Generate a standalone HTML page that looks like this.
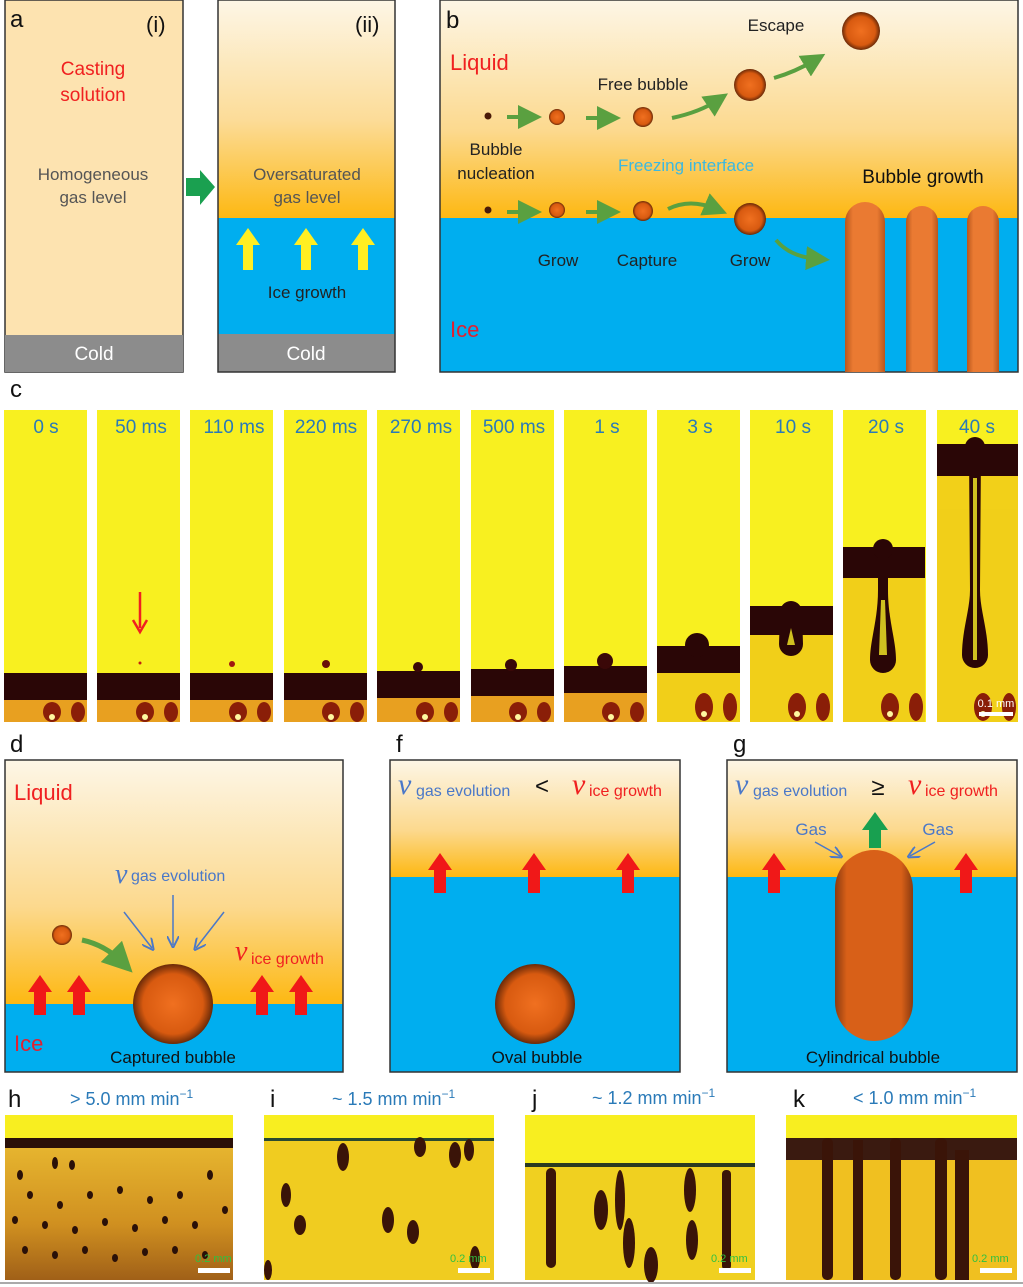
<!DOCTYPE html>
<html><head><meta charset="utf-8"><style>
body{margin:0;background:#fff;width:1023px;height:1287px;overflow:hidden}
svg{display:block}
text{font-family:"Liberation Sans",Arial,sans-serif}
</style></head><body>
<svg width="1023" height="1287" viewBox="0 0 1023 1287" xmlns="http://www.w3.org/2000/svg">
<defs>
<linearGradient id="liq" x1="0" y1="0" x2="0" y2="1">
<stop offset="0" stop-color="#fdf6e6"/><stop offset="0.55" stop-color="#fcdc98"/><stop offset="1" stop-color="#fdb812"/></linearGradient>
<linearGradient id="liq2" x1="0" y1="0" x2="0" y2="1">
<stop offset="0" stop-color="#fdf6e6"/><stop offset="0.6" stop-color="#fcd98e"/><stop offset="1" stop-color="#fdb812"/></linearGradient>
<radialGradient id="bub" cx="0.5" cy="0.5" r="0.5">
<stop offset="0" stop-color="#f07020"/><stop offset="0.75" stop-color="#d85a10"/><stop offset="1" stop-color="#6a2a08"/></radialGradient>
<linearGradient id="col" x1="0" y1="0" x2="1" y2="0">
<stop offset="0" stop-color="#b8561c"/><stop offset="0.2" stop-color="#ea7a32"/><stop offset="0.8" stop-color="#ea7a32"/><stop offset="1" stop-color="#b8561c"/></linearGradient>
<linearGradient id="colB" x1="0" y1="0" x2="1" y2="0">
<stop offset="0" stop-color="#8a3a10"/><stop offset="0.15" stop-color="#d86018"/><stop offset="0.85" stop-color="#d86018"/><stop offset="1" stop-color="#8a3a10"/></linearGradient>
<marker id="ga" markerWidth="6" markerHeight="6" refX="3" refY="3" orient="auto"><path d="M0,0 L6,3 L0,6 z" fill="#5aa040"/></marker>
<marker id="ba" markerWidth="8" markerHeight="8" refX="6" refY="4" orient="auto"><path d="M0,0 L8,4 L0,8" fill="none" stroke="#4a78c8" stroke-width="1.3"/></marker>
<linearGradient id="hg" x1="0" y1="0" x2="0" y2="1"><stop offset="0" stop-color="#e8b830"/><stop offset="0.6" stop-color="#d09020"/><stop offset="1" stop-color="#a06018"/></linearGradient>
</defs>

<!-- panel a(i) -->
<rect x="5" y="0" width="178" height="372" fill="#fde3b0" stroke="#333" stroke-width="1.5"/>
<rect x="5" y="335" width="178" height="37" fill="#8c8c8c"/>
<text x="10" y="27" font-size="24" fill="#111">a</text>
<text x="146" y="32" font-size="22" fill="#111">(i)</text>
<text x="93" y="75" font-size="19" fill="#f02020" text-anchor="middle">Casting</text>
<text x="93" y="101" font-size="19" fill="#f02020" text-anchor="middle">solution</text>
<text x="93" y="180" font-size="17" fill="#555" text-anchor="middle">Homogeneous</text>
<text x="93" y="203" font-size="17" fill="#555" text-anchor="middle">gas level</text>
<text x="94" y="360" font-size="19" fill="#fff" text-anchor="middle">Cold</text>
<path d="M186,178 L200,178 L200,170 L215,187 L200,205 L200,196 L186,196 z" fill="#1aa050"/>

<!-- panel a(ii) -->
<rect x="218" y="0" width="177" height="218" fill="url(#liq)"/>
<rect x="218" y="218" width="177" height="116" fill="#00aeef"/>
<rect x="218" y="334" width="177" height="38" fill="#8c8c8c"/>
<rect x="218" y="0" width="177" height="372" fill="none" stroke="#333" stroke-width="1.5"/>
<text x="355" y="32" font-size="22" fill="#111">(ii)</text>
<text x="307" y="180" font-size="17" fill="#555" text-anchor="middle">Oversaturated</text>
<text x="307" y="203" font-size="17" fill="#555" text-anchor="middle">gas level</text>
<g fill="#ffee22">
<path d="M243,270 L243,245 L236,245 L248,228 L260,245 L253,245 L253,270 z"/>
<path d="M301,270 L301,245 L294,245 L306,228 L318,245 L311,245 L311,270 z"/>
<path d="M358,270 L358,245 L351,245 L363,228 L375,245 L368,245 L368,270 z"/>
</g>
<text x="307" y="298" font-size="17" fill="#222" text-anchor="middle">Ice growth</text>
<text x="306" y="360" font-size="19" fill="#fff" text-anchor="middle">Cold</text>

<!-- panel b -->
<rect x="440" y="0" width="578" height="218" fill="url(#liq2)"/>
<rect x="440" y="218" width="578" height="154" fill="#00aeef"/>
<rect x="440" y="0" width="578" height="372" fill="none" stroke="#333" stroke-width="1.5"/>
<text x="446" y="28" font-size="24" fill="#111">b</text>
<text x="450" y="70" font-size="22" fill="#f02020">Liquid</text>
<text x="450" y="337" font-size="22" fill="#e02030">Ice</text>
<text x="776" y="31" font-size="17" fill="#222" text-anchor="middle">Escape</text>
<text x="643" y="90" font-size="17" fill="#222" text-anchor="middle">Free bubble</text>
<text x="496" y="155" font-size="17" fill="#222" text-anchor="middle">Bubble</text>
<text x="496" y="179" font-size="17" fill="#222" text-anchor="middle">nucleation</text>
<text x="686" y="171" font-size="17" fill="#3cb8e0" text-anchor="middle">Freezing interface</text>
<text x="923" y="183" font-size="19" fill="#111" text-anchor="middle">Bubble growth</text>
<text x="558" y="266" font-size="17" fill="#222" text-anchor="middle">Grow</text>
<text x="647" y="266" font-size="17" fill="#222" text-anchor="middle">Capture</text>
<text x="750" y="266" font-size="17" fill="#222" text-anchor="middle">Grow</text>
<circle cx="488" cy="116" r="3.5" fill="#4a1a08"/>
<circle cx="557" cy="117" r="8" fill="url(#bub)"/>
<circle cx="643" cy="117" r="10" fill="url(#bub)"/>
<circle cx="750" cy="85" r="16" fill="url(#bub)"/>
<circle cx="861" cy="31" r="19" fill="url(#bub)"/>
<circle cx="488" cy="210" r="3.5" fill="#4a1a08"/>
<circle cx="557" cy="210" r="8" fill="url(#bub)"/>
<circle cx="643" cy="211" r="10" fill="url(#bub)"/>
<circle cx="750" cy="219" r="16" fill="url(#bub)"/>
<g stroke="#5aa040" stroke-width="4" fill="none" marker-end="url(#ga)">
<line x1="507" y1="117" x2="530" y2="117"/><line x1="586" y1="118" x2="609" y2="118"/>
<path d="M672,118 Q700,112 718,100"/><path d="M774,78 Q795,72 815,60"/>
<line x1="507" y1="212" x2="530" y2="212"/><line x1="586" y1="212" x2="609" y2="212"/>
<path d="M668,209 Q690,198 716,209"/><path d="M776,240 Q790,257 818,259"/>
</g>
<g fill="url(#col)">
<path d="M845,372 L845,222 A20,20 0 0 1 885,222 L885,372 z"/>
<path d="M906,372 L906,222 A16,16 0 0 1 938,222 L938,372 z"/>
<path d="M967,372 L967,222 A16,16 0 0 1 999,222 L999,372 z"/>
</g>

<!-- panel c -->
<text x="10" y="397" font-size="24" fill="#111">c</text>
<g fill="#f8f020">
<rect x="4" y="410" width="83" height="312"/><rect x="97" y="410" width="83" height="312"/>
<rect x="190" y="410" width="83" height="312"/><rect x="284" y="410" width="83" height="312"/>
<rect x="377" y="410" width="83" height="312"/><rect x="471" y="410" width="83" height="312"/>
<rect x="564" y="410" width="83" height="312"/><rect x="657" y="410" width="83" height="312"/>
<rect x="750" y="410" width="83" height="312"/><rect x="843" y="410" width="83" height="312"/>
<rect x="937" y="410" width="81" height="312"/>
</g>
<g fill="#2a0606">
<rect x="4" y="673" width="83" height="27"/><rect x="97" y="673" width="83" height="27"/>
<rect x="190" y="673" width="83" height="27"/><rect x="284" y="673" width="83" height="27"/>
<rect x="377" y="671" width="83" height="27"/><rect x="471" y="669" width="83" height="27"/>
<rect x="564" y="666" width="83" height="27"/><rect x="657" y="646" width="83" height="27"/>
<rect x="750" y="606" width="83" height="29"/><rect x="843" y="547" width="82" height="31"/>
<rect x="937" y="444" width="81" height="32"/>
</g>
<g fill="#e8a020">
<rect x="4" y="700" width="83" height="22"/><rect x="97" y="700" width="83" height="22"/>
<rect x="190" y="700" width="83" height="22"/><rect x="284" y="700" width="83" height="22"/>
<rect x="377" y="698" width="83" height="24"/><rect x="471" y="696" width="83" height="26"/>
<rect x="564" y="693" width="83" height="29"/>
</g>
<g fill="#f0c818" opacity="0.8">
<rect x="657" y="673" width="83" height="49"/><rect x="750" y="635" width="83" height="87"/>
<rect x="843" y="578" width="82" height="144"/><rect x="937" y="476" width="81" height="246"/>
</g>
<g fill="#8a1e08">
<ellipse cx="52" cy="712" rx="9" ry="10"/><ellipse cx="78" cy="712" rx="7" ry="10"/>
<ellipse cx="145" cy="712" rx="9" ry="10"/><ellipse cx="171" cy="712" rx="7" ry="10"/>
<ellipse cx="238" cy="712" rx="9" ry="10"/><ellipse cx="264" cy="712" rx="7" ry="10"/>
<ellipse cx="331" cy="712" rx="9" ry="10"/><ellipse cx="357" cy="712" rx="7" ry="10"/>
<ellipse cx="425" cy="712" rx="9" ry="10"/><ellipse cx="451" cy="712" rx="7" ry="10"/>
<ellipse cx="518" cy="712" rx="9" ry="10"/><ellipse cx="544" cy="712" rx="7" ry="10"/>
<ellipse cx="611" cy="712" rx="9" ry="10"/><ellipse cx="637" cy="712" rx="7" ry="10"/>
<ellipse cx="704" cy="707" rx="9" ry="14"/><ellipse cx="730" cy="707" rx="7" ry="14"/>
<ellipse cx="797" cy="707" rx="9" ry="14"/><ellipse cx="823" cy="707" rx="7" ry="14"/>
<ellipse cx="890" cy="707" rx="9" ry="14"/><ellipse cx="916" cy="707" rx="7" ry="14"/>
<ellipse cx="983" cy="707" rx="9" ry="14"/><ellipse cx="1009" cy="707" rx="7" ry="14"/>
</g>
<g fill="#fff8a0">
<circle cx="52" cy="717" r="3"/><circle cx="145" cy="717" r="3"/><circle cx="238" cy="717" r="3"/><circle cx="331" cy="717" r="3"/><circle cx="425" cy="717" r="3"/><circle cx="518" cy="717" r="3"/><circle cx="611" cy="717" r="3"/><circle cx="704" cy="714" r="3"/><circle cx="797" cy="714" r="3"/><circle cx="890" cy="714" r="3"/><circle cx="983" cy="714" r="3"/>
</g>
<circle cx="140" cy="663" r="1.5" fill="#c02010"/>
<circle cx="232" cy="664" r="3" fill="#a01810"/>
<circle cx="326" cy="664" r="4" fill="#6a1008"/>
<circle cx="418" cy="667" r="5" fill="#3a0808"/>
<circle cx="511" cy="665" r="6" fill="#3a0808"/>
<circle cx="605" cy="661" r="8" fill="#3a0808"/>
<circle cx="697" cy="645" r="12" fill="#2a0606"/>
<!-- 10s -->
<path d="M780,612 A11,11 0 0 1 802,612 L803,644 A12,12 0 0 1 779,644 z" fill="#2a0606"/>
<path d="M791,628 L795,645 L787,645 z" fill="#d0c020"/>
<!-- 20s -->
<circle cx="883" cy="549" r="10" fill="#2a0606"/>
<path d="M878,555 L888,555 L888,590 C888,620 896,640 896,660 A13,13 0 0 1 870,660 C870,640 878,620 878,590 z" fill="#2a0606"/>
<path d="M881,600 L885,600 L887,655 L879,655 z" fill="#d0c020"/>
<!-- 40s -->
<circle cx="975" cy="447" r="10" fill="#2a0606"/>
<path d="M969,450 L981,450 L980,590 C980,610 988,630 988,655 A13,13 0 0 1 962,655 C962,630 970,610 970,590 z" fill="#2a0606"/>
<path d="M973,478 L977,478 L977,660 L973,660 z" fill="#d0c020"/>
<path d="M140,592 L140,628" stroke="#f02020" stroke-width="2.5"/><path d="M133,620 L140,632 L147,620" fill="none" stroke="#f02020" stroke-width="2.5"/>
<rect x="979" y="712" width="34" height="4" fill="#fff"/>
<text x="996" y="707" font-size="11" fill="#fff" text-anchor="middle">0.1 mm</text>
<g font-size="19" fill="#2a7ab8" text-anchor="middle">
<text x="46" y="433">0 s</text><text x="141" y="433">50 ms</text><text x="234" y="433">110 ms</text><text x="326" y="433">220 ms</text><text x="421" y="433">270 ms</text><text x="514" y="433">500 ms</text><text x="607" y="433">1 s</text><text x="700" y="433">3 s</text><text x="793" y="433">10 s</text><text x="886" y="433">20 s</text><text x="977" y="433">40 s</text>
</g>

<!-- panel d -->
<rect x="5" y="760" width="338" height="244" fill="url(#liq2)"/>
<rect x="5" y="1004" width="338" height="68" fill="#00aeef"/>
<rect x="5" y="760" width="338" height="312" fill="none" stroke="#333" stroke-width="1.5"/>
<text x="10" y="752" font-size="24" fill="#111">d</text>
<text x="14" y="800" font-size="22" fill="#f02020">Liquid</text>
<text x="14" y="1051" font-size="22" fill="#e02030">Ice</text>
<text x="115" y="883" font-size="28" font-style="italic" fill="#4a78c8" style="font-family:'Liberation Serif',serif">v</text>
<text x="131" y="881" font-size="16" fill="#4a78c8">gas evolution</text>
<text x="235" y="960" font-size="28" font-style="italic" fill="#f02020" style="font-family:'Liberation Serif',serif">v</text>
<text x="251" y="964" font-size="16" fill="#f02020">ice growth</text>
<circle cx="62" cy="935" r="10" fill="url(#bub)"/>
<path d="M82,940 Q105,945 122,962" stroke="#5aa040" stroke-width="5" fill="none" marker-end="url(#ga)"/>
<circle cx="173" cy="1004" r="40" fill="url(#bub)"/>
<g stroke="#4a78c8" stroke-width="1.5" marker-end="url(#ba)">
<line x1="124" y1="912" x2="152" y2="948"/><line x1="173" y1="895" x2="173" y2="945"/><line x1="224" y1="912" x2="196" y2="948"/></g>
<text x="173" y="1063" font-size="17" fill="#111" text-anchor="middle">Captured bubble</text>
<g fill="#f01818">
<path d="M34,1015 L34,992 L28,992 L40,975 L52,992 L46,992 L46,1015 z"/>
<path d="M73,1015 L73,992 L67,992 L79,975 L91,992 L85,992 L85,1015 z"/>
<path d="M256,1015 L256,992 L250,992 L262,975 L274,992 L268,992 L268,1015 z"/>
<path d="M295,1015 L295,992 L289,992 L301,975 L313,992 L307,992 L307,1015 z"/>
</g>

<!-- panel f -->
<rect x="390" y="760" width="290" height="117" fill="url(#liq2)"/>
<rect x="390" y="877" width="290" height="195" fill="#00aeef"/>
<rect x="390" y="760" width="290" height="312" fill="none" stroke="#333" stroke-width="1.5"/>
<text x="396" y="752" font-size="24" fill="#111">f</text>
<text x="398" y="794" font-size="30" font-style="italic" fill="#4a78c8" style="font-family:'Liberation Serif',serif">v</text>
<text x="416" y="796" font-size="16" fill="#4a78c8">gas evolution</text>
<text x="542" y="794" font-size="24" fill="#111" text-anchor="middle">&lt;</text>
<text x="572" y="794" font-size="30" font-style="italic" fill="#f02020" style="font-family:'Liberation Serif',serif">v</text>
<text x="589" y="796" font-size="16" fill="#f02020">ice growth</text>
<g fill="#f01818">
<path d="M434,893 L434,870 L428,870 L440,853 L452,870 L446,870 L446,893 z"/>
<path d="M528,893 L528,870 L522,870 L534,853 L546,870 L540,870 L540,893 z"/>
<path d="M622,893 L622,870 L616,870 L628,853 L640,870 L634,870 L634,893 z"/>
</g>
<circle cx="535" cy="1004" r="40" fill="url(#bub)"/>
<text x="537" y="1063" font-size="17" fill="#111" text-anchor="middle">Oval bubble</text>

<!-- panel g -->
<rect x="727" y="760" width="290" height="117" fill="url(#liq2)"/>
<rect x="727" y="877" width="290" height="195" fill="#00aeef"/>
<rect x="727" y="760" width="290" height="312" fill="none" stroke="#333" stroke-width="1.5"/>
<text x="733" y="752" font-size="24" fill="#111">g</text>
<text x="735" y="794" font-size="30" font-style="italic" fill="#4a78c8" style="font-family:'Liberation Serif',serif">v</text>
<text x="753" y="796" font-size="16" fill="#4a78c8">gas evolution</text>
<text x="878" y="795" font-size="24" fill="#111" text-anchor="middle">≥</text>
<text x="908" y="794" font-size="30" font-style="italic" fill="#f02020" style="font-family:'Liberation Serif',serif">v</text>
<text x="925" y="796" font-size="16" fill="#f02020">ice growth</text>
<path d="M835,1002 L835,889 A39,39 0 0 1 913,889 L913,1002 A39,39 0 0 1 835,1002 z" fill="url(#colB)"/>
<text x="811" y="835" font-size="17" fill="#4a78c8" text-anchor="middle">Gas</text>
<text x="938" y="835" font-size="17" fill="#4a78c8" text-anchor="middle">Gas</text>
<g stroke="#4a78c8" stroke-width="1.5" marker-end="url(#ba)"><line x1="815" y1="842" x2="840" y2="856"/><line x1="935" y1="842" x2="910" y2="856"/></g>
<path d="M869,848 L869,830 L862,830 L875,812 L888,830 L881,830 L881,848 z" fill="#18a050"/>
<g fill="#f01818">
<path d="M768,893 L768,870 L762,870 L774,853 L786,870 L780,870 L780,893 z"/>
<path d="M960,893 L960,870 L954,870 L966,853 L978,870 L972,870 L972,893 z"/>
</g>
<text x="873" y="1063" font-size="17" fill="#111" text-anchor="middle">Cylindrical bubble</text>

<!-- bottom panels -->
<g font-size="24" fill="#111"><text x="8" y="1107">h</text><text x="270" y="1107">i</text><text x="532" y="1107">j</text><text x="793" y="1107">k</text></g>
<g font-size="18" fill="#2a7ab8">
<text x="70" y="1105">&gt; 5.0 mm min<tspan font-size="12" dy="-7">−1</tspan></text>
<text x="332" y="1105">~ 1.5 mm min<tspan font-size="12" dy="-7">−1</tspan></text>
<text x="592" y="1104">~ 1.2 mm min<tspan font-size="12" dy="-7">−1</tspan></text>
<text x="853" y="1104">&lt; 1.0 mm min<tspan font-size="12" dy="-7">−1</tspan></text>
</g>
<rect x="5" y="1115" width="228" height="25" fill="#f8ee20"/>
<rect x="5" y="1140" width="228" height="140" fill="url(#hg)"/>
<rect x="5" y="1138" width="228" height="10" fill="#2a1008"/>
<g fill="#2a1008">
<ellipse cx="20" cy="1175" rx="3" ry="5"/><ellipse cx="55" cy="1163" rx="3" ry="6"/><ellipse cx="72" cy="1165" rx="3" ry="5"/><ellipse cx="30" cy="1195" rx="3" ry="4"/><ellipse cx="60" cy="1205" rx="3" ry="4"/><ellipse cx="90" cy="1195" rx="3" ry="4"/><ellipse cx="120" cy="1190" rx="3" ry="4"/><ellipse cx="150" cy="1200" rx="3" ry="4"/><ellipse cx="180" cy="1195" rx="3" ry="4"/><ellipse cx="210" cy="1175" rx="3" ry="5"/><ellipse cx="15" cy="1220" rx="3" ry="4"/><ellipse cx="45" cy="1225" rx="3" ry="4"/><ellipse cx="75" cy="1230" rx="3" ry="4"/><ellipse cx="105" cy="1222" rx="3" ry="4"/><ellipse cx="135" cy="1228" rx="3" ry="4"/><ellipse cx="165" cy="1220" rx="3" ry="4"/><ellipse cx="195" cy="1225" rx="3" ry="4"/><ellipse cx="225" cy="1210" rx="3" ry="4"/><ellipse cx="25" cy="1250" rx="3" ry="4"/><ellipse cx="55" cy="1255" rx="3" ry="4"/><ellipse cx="85" cy="1250" rx="3" ry="4"/><ellipse cx="115" cy="1258" rx="3" ry="4"/><ellipse cx="145" cy="1252" rx="3" ry="4"/><ellipse cx="175" cy="1250" rx="3" ry="4"/><ellipse cx="205" cy="1255" rx="3" ry="4"/>
</g>
<rect x="264" y="1115" width="230" height="165" fill="#f0cc20"/>
<rect x="264" y="1115" width="230" height="25" fill="#f8ee20"/>
<rect x="264" y="1138" width="230" height="3" fill="#2a4a30"/>
<g fill="#3a1408"><ellipse cx="343" cy="1157" rx="6" ry="14"/><ellipse cx="420" cy="1147" rx="6" ry="10"/><ellipse cx="455" cy="1155" rx="6" ry="13"/><ellipse cx="469" cy="1150" rx="5" ry="11"/><ellipse cx="286" cy="1195" rx="5" ry="12"/><ellipse cx="300" cy="1225" rx="6" ry="10"/><ellipse cx="388" cy="1220" rx="6" ry="13"/><ellipse cx="413" cy="1232" rx="6" ry="12"/><ellipse cx="475" cy="1258" rx="5" ry="12"/><ellipse cx="268" cy="1270" rx="4" ry="10"/></g>
<rect x="525" y="1115" width="230" height="165" fill="#f0d020"/>
<rect x="525" y="1115" width="230" height="50" fill="#f8ee20"/>
<rect x="525" y="1163" width="230" height="4" fill="#2a3a20"/>
<g fill="#3a1408"><rect x="546" y="1168" width="10" height="100" rx="5"/><ellipse cx="601" cy="1210" rx="7" ry="20"/><ellipse cx="620" cy="1200" rx="5" ry="30"/><ellipse cx="629" cy="1243" rx="6" ry="25"/><ellipse cx="690" cy="1190" rx="6" ry="22"/><ellipse cx="692" cy="1240" rx="6" ry="20"/><rect x="722" y="1170" width="9" height="100" rx="4"/><ellipse cx="651" cy="1265" rx="7" ry="18"/></g>
<rect x="786" y="1115" width="231" height="165" fill="#f0c020"/>
<rect x="786" y="1115" width="231" height="25" fill="#f8ee20"/>
<rect x="786" y="1138" width="231" height="22" fill="#3a1a10"/>
<g fill="#3a1408"><rect x="822" y="1138" width="11" height="142" rx="5"/><rect x="853" y="1140" width="10" height="140"/><rect x="890" y="1138" width="11" height="142" rx="5"/><rect x="935" y="1138" width="12" height="142" rx="5"/><rect x="955" y="1150" width="14" height="130"/></g>
<g fill="#fff"><rect x="198" y="1268" width="32" height="5"/><rect x="458" y="1268" width="32" height="5"/><rect x="719" y="1268" width="32" height="5"/><rect x="980" y="1268" width="32" height="5"/></g>
<g font-size="11" fill="#30c040"><text x="195" y="1262">0.2 mm</text><text x="450" y="1262">0.2 mm</text><text x="711" y="1262">0.2 mm</text><text x="972" y="1262">0.2 mm</text></g>
<rect x="0" y="1282" width="1023" height="2" fill="#aaa"/>
</svg>
</body></html>
